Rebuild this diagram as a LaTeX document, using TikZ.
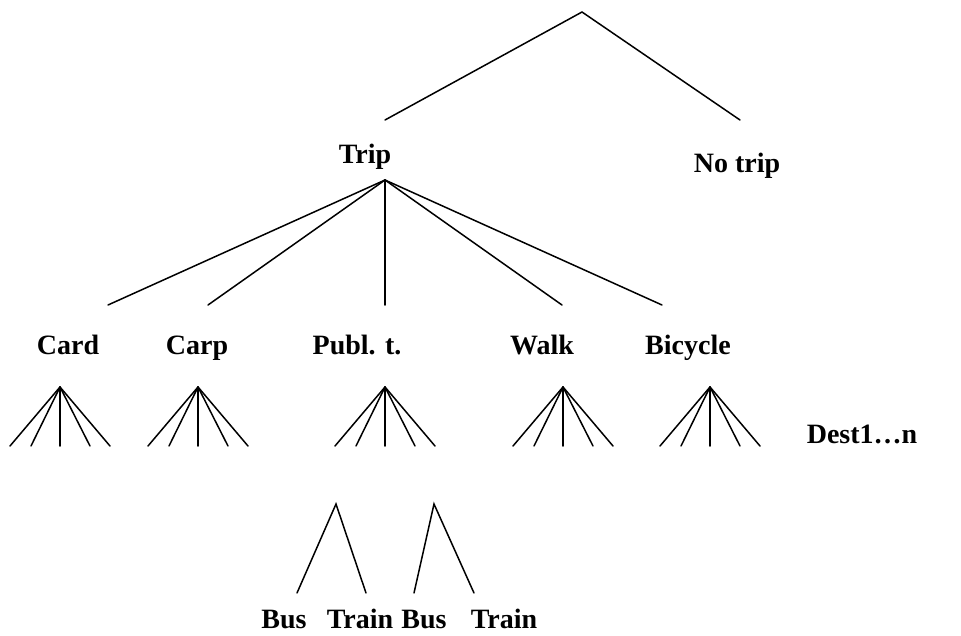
\documentclass[tikz,border=0pt]{standalone}
\usepackage{fontspec}
\setmainfont{Liberation Serif}
\begin{document}
\begin{tikzpicture}[x=1pt,y=-1pt,
  lbl/.style={anchor=base,inner sep=0pt,font=\fontsize{28}{34}\selectfont\bfseries},
  edge/.style={line width=1.5pt,line cap=round}]
\useasboundingbox (0,0) rectangle (961,635);
% labels
\node[lbl] (trip) at (365,163) {Trip};
\node[lbl] (notrip) at (737,172) {No trip};
\node[lbl] (card) at (68,354) {Card};
\node[lbl] (carp) at (197,354) {Carp};
\node[lbl] (publ) at (357,354) {Publ. t.};
\node[lbl] (walk) at (542,354) {Walk};
\node[lbl] (bike) at (688,354) {Bicycle};
\node[lbl] (dest) at (862,443) {Dest1…n};
\node[lbl] (bus1) at (284,628) {Bus};
\node[lbl] (train1) at (360,628) {Train};
\node[lbl] (bus2) at (424,628) {Bus};
\node[lbl] (train2) at (504,628) {Train};
% top split
\coordinate (root) at (582,12);
\coordinate (rl) at (385,120);
\coordinate (rr) at (740,120);
\draw[edge] (rl) -- (root) -- (rr);
% trip fan
\coordinate (tapex) at (385,180);
\foreach \x/\n in {108/a,208/b,385/c,562/d,662/e}{
  \coordinate (t\n) at (\x,305);
  \draw[edge] (tapex) -- (t\n);
}
% destination fans
\foreach \ax/\k in {60/1,198/2,385/3,563/4,710/5}{
  \coordinate (f\k) at (\ax,387);
  \foreach \dx/\m in {-50/a,-29/b,0/c,30/d,50/e}{
    \coordinate (f\k\m) at (\ax+\dx,446);
    \draw[edge] (f\k) -- (f\k\m);
  }
}
% bus/train splits
\coordinate (s1) at (336,504);
\coordinate (s1a) at (297,593);
\coordinate (s1b) at (366,593);
\draw[edge] (s1a) -- (s1) -- (s1b);
\coordinate (s2) at (434,504);
\coordinate (s2a) at (414,593);
\coordinate (s2b) at (474,593);
\draw[edge] (s2a) -- (s2) -- (s2b);
\end{tikzpicture}
\end{document}
